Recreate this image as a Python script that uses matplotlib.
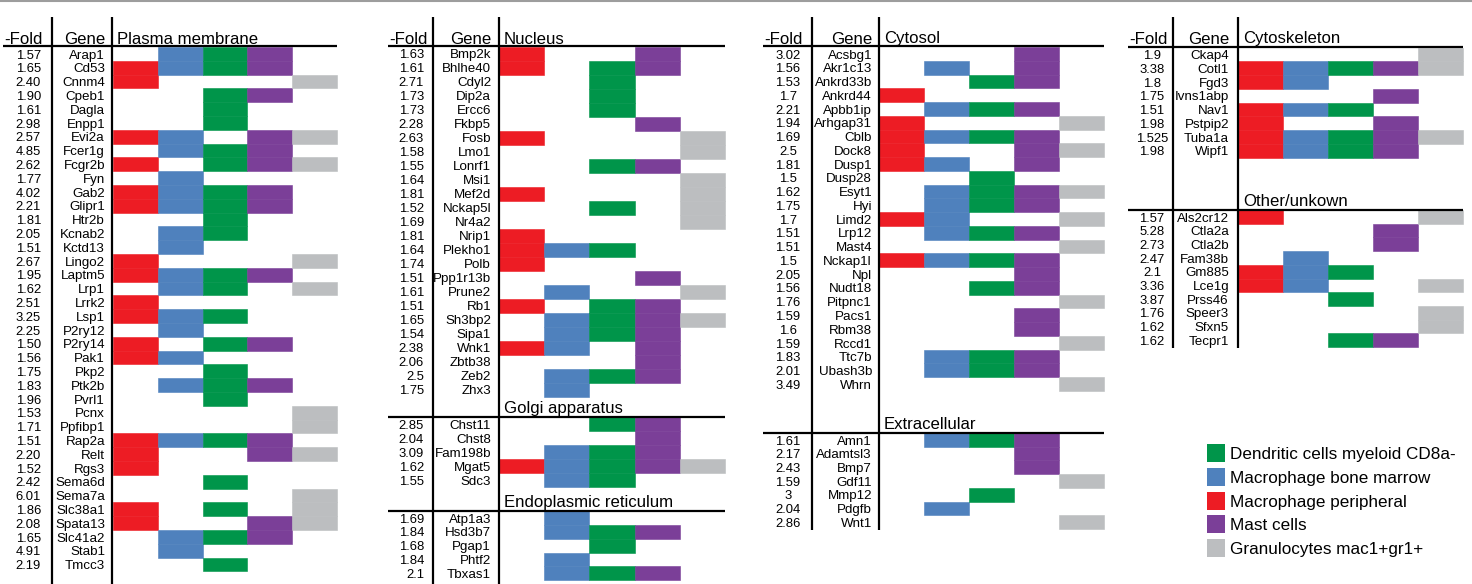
import matplotlib
matplotlib.use("Agg")
import matplotlib.pyplot as plt

# ---------------- data ----------------
# cell codes: R=Macrophage peripheral, B=Macrophage bone marrow, G=Dendritic, P=Mast, X=Granulocytes
pm_genes = ["Arap1", "Cd53", "Cnnm4", "Cpeb1", "Dagla", "Enpp1", "Evi2a", "Fcer1g", "Fcgr2b", "Fyn",
            "Gab2", "Glipr1", "Htr2b", "Kcnab2", "Kctd13", "Lingo2", "Laptm5", "Lrp1", "Lrrk2", "Lsp1",
            "P2ry12", "P2ry14", "Pak1", "Pkp2", "Ptk2b", "Pvrl1", "Pcnx", "Ppfibp1", "Rap2a", "Relt",
            "Rgs3", "Sema6d", "Sema7a", "Slc38a1", "Spata13", "Slc41a2", "Stab1", "Tmcc3"]
pm_fold = ["1.57", "1.65", "2.40", "1.90", "1.61", "2.98", "2.57", "4.85", "2.62", "1.77",
           "4.02", "2.21", "1.81", "2.05", "1.51", "2.67", "1.95", "1.62", "2.51", "3.25",
           "2.25", "1.50", "1.56", "1.75", "1.83", "1.96", "1.53", "1.71", "1.51", "2.20",
           "1.52", "2.42", "6.01", "1.86", "2.08", "1.65", "4.91", "2.19"]
pm_cells = ["BGP", "RBGP", "RX", "GP", "G", "G", "RBPX", "BGP", "RGPX", "B",
            "RBGP", "RBGP", "G", "BG", "B", "RX", "RBGP", "BGX", "R", "RBG",
            "B", "RGP", "RB", "G", "BGP", "G", "X", "X", "RBGP", "RPX",
            "R", "G", "X", "RGX", "RPX", "BGP", "B", "G"]

nu_genes = ["Bmp2k", "Bhlhe40", "Cdyl2", "Dip2a", "Ercc6", "Fkbp5", "Fosb", "Lmo1", "Lonrf1", "Msi1",
            "Mef2d", "Nckap5l", "Nr4a2", "Nrip1", "Plekho1", "Polb", "Ppp1r13b", "Prune2", "Rb1",
            "Sh3bp2", "Sipa1", "Wnk1", "Zbtb38", "Zeb2", "Zhx3"]
nu_fold = ["1.63", "1.61", "2.71", "1.73", "1.73", "2.28", "2.63", "1.58", "1.55", "1.64",
           "1.81", "1.52", "1.69", "1.81", "1.64", "1.74", "1.51", "1.61", "1.51",
           "1.65", "1.54", "2.38", "2.06", "2.5", "1.75"]
nu_cells = ["RP", "RGP", "G", "G", "G", "P", "RX", "X", "GP", "X",
            "RX", "GX", "X", "R", "RBG", "R", "P", "BX", "RGP",
            "BGPX", "BGP", "RBP", "P", "BGP", "B"]

go_genes = ["Chst11", "Chst8", "Fam198b", "Mgat5", "Sdc3"]
go_fold = ["2.85", "2.04", "3.09", "1.62", "1.55"]
go_cells = ["GP", "P", "BGP", "RBGPX", "BG"]

er_genes = ["Atp1a3", "Hsd3b7", "Pgap1", "Phtf2", "Tbxas1"]
er_fold = ["1.69", "1.84", "1.68", "1.84", "2.1"]
er_cells = ["B", "BGP", "G", "B", "BGP"]

cy_genes = ["Acsbg1", "Akr1c13", "Ankrd33b", "Ankrd44", "Apbb1ip", "Arhgap31", "Cblb", "Dock8", "Dusp1",
            "Dusp28", "Esyt1", "Hyi", "Limd2", "Lrp12", "Mast4", "Nckap1l", "Npl", "Nudt18", "Pitpnc1",
            "Pacs1", "Rbm38", "Rccd1", "Ttc7b", "Ubash3b", "Whrn"]
cy_fold = ["3.02", "1.56", "1.53", "1.7", "2.21", "1.94", "1.69", "2.5", "1.81",
           "1.5", "1.62", "1.75", "1.7", "1.51", "1.51", "1.5", "2.05", "1.56", "1.76",
           "1.59", "1.6", "1.59", "1.83", "2.01", "3.49"]
cy_cells = ["P", "BP", "GP", "R", "BGP", "RX", "RBGP", "RPX", "RBP",
            "G", "BGPX", "BGP", "RBX", "BGP", "X", "RBGP", "P", "GP", "X",
            "P", "P", "X", "BGP", "BGP", "X"]

ex_genes = ["Amn1", "Adamtsl3", "Bmp7", "Gdf11", "Mmp12", "Pdgfb", "Wnt1"]
ex_fold = ["1.61", "2.17", "2.43", "1.59", "3", "2.04", "2.86"]
ex_cells = ["BGP", "P", "P", "X", "G", "B", "X"]

ck_genes = ["Ckap4", "Cotl1", "Fgd3", "Ivns1abp", "Nav1", "Pstpip2", "Tuba1a", "Wipf1"]
ck_fold = ["1.9", "3.38", "1.8", "1.75", "1.51", "1.98", "1.525", "1.98"]
ck_cells = ["X", "RBGPX", "RB", "P", "RBG", "RP", "RBGPX", "RBGP"]

ot_genes = ["Als2cr12", "Ctla2a", "Ctla2b", "Fam38b", "Gm885", "Lce1g", "Prss46", "Speer3", "Sfxn5", "Tecpr1"]
ot_fold = ["1.57", "5.28", "2.73", "2.47", "2.1", "3.36", "3.87", "1.76", "1.62", "1.62"]
ot_cells = ["RX", "P", "P", "B", "RBG", "RBX", "G", "X", "X", "GP"]

col_order = ["R", "B", "G", "P", "X"]
colors = {"R": "#ED1C24", "B": "#4F81BD", "G": "#00954A", "P": "#7B3F98", "X": "#BCBEC0"}
legend_keys = ["G", "B", "R", "P", "X"]
legend_labels = ["Dendritic cells myeloid CD8a-", "Macrophage bone marrow", "Macrophage peripheral",
                 "Mast cells", "Granulocytes mac1+gr1+"]

# ---------------- layout ----------------
FONT = "Liberation Sans"
HDR = 12.1
GENE = 9.6
FOLD = 9.4
LW = 1.6

panels = [
    dict(left=3, fold_x=41, fold_ha="right", gene_x=105, v1=52, v2=112, cell_x=113, cw=44.8, vbot=584,
         sections=[("Plasma membrane", pm_genes, pm_fold, pm_cells, 46, 47, 13.8)]),
    dict(left=388, fold_x=424, fold_ha="right", gene_x=491, v1=433, v2=499, cell_x=499, cw=45.2, vbot=584,
         sections=[("Nucleus", nu_genes, nu_fold, nu_cells, 46, 46.5, 14.0),
                   ("Golgi apparatus", go_genes, go_fold, go_cells, 417, 417, 14.0),
                   ("Endoplasmic reticulum", er_genes, er_fold, er_cells, 511, 511, 13.85)]),
    dict(left=763, fold_x=788, fold_ha="center", gene_x=872, v1=812, v2=879, cell_x=879, cw=45, vbot=530,
         sections=[("Cytosol", cy_genes, cy_fold, cy_cells, 46, 47, 13.76),
                   ("Extracellular", ex_genes, ex_fold, ex_cells, 433, 433, 13.7)]),
    dict(left=1128, fold_x=1152, fold_ha="center", gene_x=1229, v1=1173, v2=1238, cell_x=1238, cw=45, vbot=348,
         sections=[("Cytoskeleton", ck_genes, ck_fold, ck_cells, 47, 47.5, 13.75),
                   ("Other/unkown", ot_genes, ot_fold, ot_cells, 210, 210, 13.7)]),
]

fig = plt.figure(figsize=(14.72, 5.84), dpi=100)
ax = fig.add_axes([0, 0, 1, 1])
ax.set_xlim(0, 1472)
ax.set_ylim(584, 0)
ax.axis("off")

ax.axhline(1.0, color="#9d9d9d", lw=1.5)

for P in panels:
    right = P["cell_x"] + 5 * P["cw"]
    ax.plot([P["v1"], P["v1"]], [17, P["vbot"]], color="black", lw=LW, solid_capstyle="butt")
    ax.plot([P["v2"], P["v2"]], [17, P["vbot"]], color="black", lw=LW, solid_capstyle="butt")
    for si, (title, genes, folds, cells, line_y, top, h) in enumerate(P["sections"]):
        ax.plot([P["left"], right], [line_y, line_y], color="black", lw=LW, solid_capstyle="butt")
        if si == 0:
            base = 43.5
            ax.text(P["left"] + 1, base, "-Fold", fontsize=HDR, family=FONT, ha="left", va="baseline")
            ax.text(P["gene_x"], base, "Gene", fontsize=HDR, family=FONT, ha="right", va="baseline")
        else:
            base = line_y - 4
        ax.text(P["v2"] + 5, base, title, fontsize=HDR, family=FONT, ha="left", va="baseline")
        for i, (g, f) in enumerate(zip(genes, folds)):
            yc = top + (i + 0.5) * h
            ax.text(P["gene_x"], yc + 4.7, g, fontsize=GENE, family=FONT, ha="right", va="baseline")
            ax.text(P["fold_x"], yc + 4.7, f, fontsize=FOLD, family=FONT, ha=P["fold_ha"], va="baseline")
        for k, key in enumerate(col_order):
            rows = [i for i, c in enumerate(cells) if key in c]
            if not rows:
                continue
            ax.bar([P["cell_x"] + k * P["cw"]] * len(rows), [h] * len(rows), width=P["cw"],
                   bottom=[top + i * h for i in rows], align="edge",
                   color=colors[key], edgecolor=colors[key], linewidth=0.4)

# legend
for i, (key, lab) in enumerate(zip(legend_keys, legend_labels)):
    yc = 453 + i * 23.75
    ax.bar([1207], [18], width=18, bottom=[yc - 9], align="edge", color=colors[key], linewidth=0)
    ax.text(1230, yc + 6, lab, fontsize=12.3, family=FONT, ha="left", va="baseline")

fig.savefig("out.png", dpi=100)
